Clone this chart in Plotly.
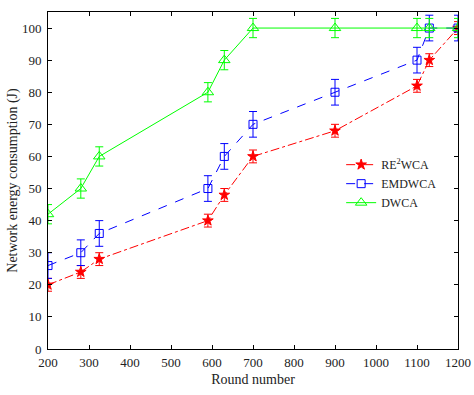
import plotly.graph_objects as go

rounds = [200, 280, 325, 590, 630, 700, 900, 1100, 1130, 1200]
re2wca = [20, 24, 28, 40, 48, 60, 68, 82, 90, 100]
re2wca_err = [2, 2, 2, 2, 2, 2, 2, 2, 2, 2]
emdwca = [26, 30, 36, 50, 60, 70, 80, 90, 100, 100]
emdwca_err = [4, 4, 4, 4, 4, 4, 4, 4, 4, 4]
dwca = [42, 50, 60, 80, 90, 100, 100, 100, 100, 100]
dwca_err = [3, 3, 3, 3, 3, 3, 3, 3, 3, 3]

font = "Liberation Serif"

fig = go.Figure()
fig.add_trace(go.Scatter(
    x=rounds, y=re2wca, name="RE<sup>2</sup>WCA", mode="lines+markers",
    line=dict(color="#FF0000", width=1, dash="dashdot"),
    marker=dict(symbol="star", size=8, color="#FF0000", line=dict(color="#FF0000", width=1)),
    error_y=dict(type="data", array=re2wca_err, color="#FF0000", thickness=1, width=4),
))
fig.add_trace(go.Scatter(
    x=rounds, y=emdwca, name="EMDWCA", mode="lines+markers",
    line=dict(color="#0000FF", width=1, dash="dash"),
    marker=dict(symbol="square-open", size=8, color="#0000FF", line=dict(width=1)),
    error_y=dict(type="data", array=emdwca_err, color="#0000FF", thickness=1, width=4),
))
fig.add_trace(go.Scatter(
    x=rounds, y=dwca, name="DWCA", mode="lines+markers",
    line=dict(color="#00FF00", width=1),
    marker=dict(symbol="triangle-up-open", size=10, color="#00FF00", line=dict(width=1)),
    error_y=dict(type="data", array=dwca_err, color="#00FF00", thickness=1, width=4),
))

axis_common = dict(
    showgrid=False, zeroline=False, showline=True, linecolor="black", linewidth=1,
    mirror="allticks", ticks="inside", ticklen=4, tickcolor="black",
    tickfont=dict(family=font, size=13, color="#222"), automargin=False,
)
fig.update_xaxes(range=[200, 1200], dtick=100, tick0=200, ticklabelstandoff=1,
                 title=dict(text="Round number", font=dict(family=font, size=14, color="#222"), standoff=5),
                 **axis_common)
fig.update_yaxes(range=[0, 105], dtick=10, tick0=0, ticklabelstandoff=3,
                 title=dict(text="Network energy consumption (J)", font=dict(family=font, size=14, color="#222"), standoff=1),
                 **axis_common)

fig.update_layout(
    width=474, height=395,
    margin=dict(l=48, r=16, t=12, b=46),
    paper_bgcolor="white", plot_bgcolor="white",
    font=dict(family=font, size=13, color="#222"),
    legend=dict(x=0.715, y=0.59, xanchor="left", yanchor="top",
                bgcolor="rgba(0,0,0,0)", font=dict(family=font, size=12),
                tracegroupgap=0),
)

fig.write_html("out.html", config={"displayModeBar": False},
               post_script="document.body.style.margin='0';document.body.style.overflow='hidden';")
